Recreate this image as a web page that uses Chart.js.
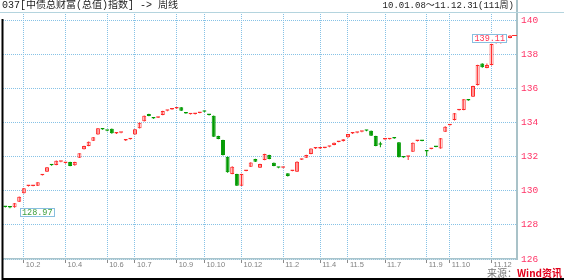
<!DOCTYPE html>
<html>
<head>
<meta charset="utf-8">
<script src="https://cdn.jsdelivr.net/npm/chart.js@4.4.1/dist/chart.umd.min.js"></script>
<style>
  html, body { margin: 0; padding: 0; background: #fff; }
  #wrap { position: relative; width: 564px; height: 280px; overflow: hidden; }
  #c { position: absolute; left: 0; top: 0; }
  .txt { position: absolute; white-space: nowrap; font-family: "Liberation Mono", "Noto Sans CJK SC", monospace; }
  #title { left: 2px; top: 0px; font-size: 10px; line-height: 12px; color: #222; }
  #range { right: 50px; top: 0px; font-size: 9px; line-height: 12px; color: #222; }
  #src { right: 2px; top: 267px; font-size: 10px; line-height: 12px; color: #777; font-family: "Noto Sans CJK SC", sans-serif; }
  #src b { color: #e0001a; }
</style>
</head>
<body>
<div id="wrap">
  <canvas id="c" width="564" height="280"></canvas>
  <div class="txt" id="title">037[中债总财富(总值)指数] -&gt; 周线</div>
  <div class="txt" id="range">10.01.08～11.12.31(111周)</div>
  <div class="txt" id="src">来源：<b>Wind资讯</b></div>
</div>
<script>
// weekly candles, 2010-01-08 .. 2011-12-31 (111 week slots)
const slotCount = 111;

const openV = [
  129.08, 129.04, 129.03, 129.36, 129.85, 130.27, 130.28, 130.29, 130.91, 131.11,
  131.53, 131.51, 131.69, 131.62, 131.68, 131.49, 131.93, 132.43, 132.62, 132.93,
  133.30, 133.62, 133.54, 133.63, 133.35, 133.39, 132.94, 133.02, 133.30, 133.66,
  134.07, 134.49, 134.26, 134.28, 134.44, 134.68, 134.76, 134.82, 134.89, 134.56,
  134.48, 134.49, 134.56, 134.65, 134.46, 134.39, 133.21, 132.97, 131.99, 130.98,
  130.98, 130.29, 131.16, 131.41, 131.86, 131.35, 131.80, 132.09, 131.64, 131.37,
  131.34, 131.02, 131.16, 131.11, 131.82, 131.93, 132.15, 132.47, 132.47, 132.51,
  132.57, 132.68, 132.86, 132.91, 133.13, 133.35, 133.39, 133.45, 133.54, 133.52,
  133.21, 132.73, 133.00, 133.02, 133.09, 132.84, 131.98, 131.99, 132.29, 132.91,
  132.95, 132.35, 132.45, 132.60, 132.48, 133.46, 133.84, 134.14, 134.72, 134.73,
  135.33, 135.51, 136.19, 137.46, 137.19, 137.36, 138.65, 138.65, 138.75, 138.95
];
const closeV = [
  129.05, 129.01, 129.26, 129.65, 130.14, 130.30, 130.31, 130.49, 130.94, 131.37,
  131.49, 131.76, 131.72, 131.66, 131.45, 131.68, 132.19, 132.62, 132.87, 133.13,
  133.66, 133.59, 133.51, 133.36, 133.38, 133.42, 132.97, 133.05, 133.60, 133.98,
  134.39, 134.38, 134.23, 134.32, 134.67, 134.71, 134.79, 134.85, 134.69, 134.53,
  134.51, 134.52, 134.59, 134.62, 134.43, 133.16, 133.03, 132.09, 131.08, 131.41,
  130.29, 130.98, 131.19, 131.66, 131.70, 131.57, 132.15, 131.86, 131.45, 131.34,
  131.37, 130.86, 131.19, 131.70, 131.86, 132.09, 132.48, 132.50, 132.50, 132.54,
  132.60, 132.81, 132.89, 133.01, 133.32, 133.38, 133.42, 133.48, 133.51, 133.22,
  132.62, 132.69, 133.03, 133.05, 133.06, 131.96, 131.95, 132.03, 132.81, 132.94,
  132.92, 132.30, 132.49, 132.56, 133.07, 133.75, 133.87, 134.54, 134.75, 135.36,
  135.29, 136.13, 137.36, 137.23, 137.36, 138.59, 138.68, 138.68, 138.79, 139.10
];
const highV = [
  129.10, 129.07, 129.28, 129.66, 130.16, 130.31, 130.33, 130.50, 130.95, 131.39,
  131.54, 131.77, 131.73, 131.67, 131.69, 131.69, 132.20, 132.63, 132.88, 133.14,
  133.68, 133.64, 133.56, 133.65, 133.39, 133.43, 132.98, 133.06, 133.62, 134.00,
  134.40, 134.51, 134.27, 134.33, 134.68, 134.72, 134.80, 134.86, 134.90, 134.57,
  134.52, 134.53, 134.60, 134.66, 134.47, 134.40, 133.22, 132.98, 132.00, 131.43,
  131.00, 131.00, 131.20, 131.67, 131.87, 131.58, 132.16, 132.10, 131.65, 131.38,
  131.38, 131.03, 131.20, 131.72, 131.87, 132.10, 132.49, 132.51, 132.51, 132.55,
  132.61, 132.82, 132.90, 133.02, 133.33, 133.39, 133.43, 133.49, 133.55, 133.53,
  133.22, 132.87, 133.04, 133.06, 133.10, 132.85, 131.99, 132.04, 132.83, 132.95,
  132.96, 132.36, 132.50, 132.61, 133.09, 133.77, 133.88, 134.56, 134.76, 135.38,
  135.34, 136.15, 137.38, 137.47, 137.46, 138.61, 138.69, 138.69, 138.80, 139.11
];
const lowV = [
  129.02, 128.97, 129.00, 129.34, 129.83, 130.25, 130.26, 130.27, 130.89, 131.09,
  131.47, 131.49, 131.67, 131.60, 131.43, 131.47, 131.91, 132.41, 132.60, 132.91,
  133.28, 133.57, 133.49, 133.34, 133.33, 133.37, 132.92, 133.00, 133.28, 133.64,
  134.05, 134.36, 134.21, 134.26, 134.42, 134.66, 134.74, 134.80, 134.67, 134.51,
  134.46, 134.47, 134.54, 134.60, 134.41, 133.14, 133.01, 132.07, 131.06, 130.96,
  130.27, 130.27, 131.14, 131.39, 131.68, 131.33, 131.78, 131.84, 131.43, 131.32,
  131.32, 130.84, 131.14, 131.09, 131.80, 131.91, 132.13, 132.45, 132.45, 132.49,
  132.55, 132.66, 132.84, 132.89, 133.11, 133.33, 133.37, 133.43, 133.49, 133.20,
  132.60, 132.54, 132.98, 133.00, 133.04, 131.94, 131.93, 131.80, 132.27, 132.89,
  132.90, 132.03, 132.43, 132.54, 132.46, 133.44, 133.82, 134.12, 134.70, 134.71,
  135.27, 135.49, 136.17, 137.21, 137.17, 137.34, 138.63, 138.63, 138.73, 138.93
];

const tickWeeks  = [4, 13, 22, 28, 37, 43, 51, 60, 68, 74, 82, 91, 96, 105];
const tickLabels = ['10.2', '10.4', '10.6', '10.7', '10.9', '10.10', '10.12',
                    '11.2', '11.4', '11.5', '11.7', '11.9', '11.10', '11.12'];
const yTicks = [126, 128, 130, 132, 134, 136, 138, 140];

const UP = '#ff2a2a';
const DOWN = '#009a00';
const GRID = '#86c2e6';

const isUp = openV.map((o, i) => closeV[i] >= o);
const bodies = openV.map((o, i) => ({ x: i, y: [o, closeV[i]] }));
const wicks = lowV.map((l, i) => ({ x: i, y: [l, highV[i]] }));

const extras = {
  id: 'extras',
  afterDatasetsDraw(chart) {
    const { ctx, chartArea: a, scales: { x, y } } = chart;
    ctx.save();

    // last close marker line to the right edge
    const last = closeV.length - 1;
    const ly = Math.round(y.getPixelForValue(closeV[last])) + 0.5;
    ctx.strokeStyle = UP;
    ctx.lineWidth = 1;
    ctx.beginPath();
    ctx.moveTo(x.getPixelForValue(last) + 2, ly);
    ctx.lineTo(a.right, ly);
    ctx.stroke();

    // min / max labels
    ctx.font = '8.5px "Liberation Mono", monospace';
    ctx.textBaseline = 'middle';
    const tag = (txt, left, top, color) => {
      const w = ctx.measureText(txt).width + 3;
      ctx.fillStyle = '#fff';
      ctx.fillRect(left, top, w, 8);
      ctx.strokeStyle = '#88bfe0';
      ctx.strokeRect(Math.round(left) + 0.5, Math.round(top) + 0.5, Math.round(w), 8);
      ctx.fillStyle = color;
      ctx.fillText(txt, left + 2, top + 4.5);
      return w;
    };
    const lo = Math.min(...lowV), iLo = lowV.indexOf(lo);
    tag(lo.toFixed(2), x.getPixelForValue(iLo) + 10, y.getPixelForValue(lo), '#3c9f3c');
    const hi = Math.max(...highV), iHi = highV.indexOf(hi);
    const hw = ctx.measureText(hi.toFixed(2)).width + 3;
    tag(hi.toFixed(2), x.getPixelForValue(iHi) - 4 - hw, y.getPixelForValue(hi) - 1, '#ff3355');
    ctx.restore();
  },
  afterDraw(chart) {
    const { ctx, chartArea: a } = chart;
    ctx.save();
    ctx.strokeStyle = '#b4d4de';
    ctx.lineWidth = 1;
    ctx.beginPath();
    ctx.moveTo(0, a.top + 0.5);
    ctx.lineTo(chart.width, a.top + 0.5);
    ctx.stroke();
    ctx.strokeStyle = '#a9c2c8';
    ctx.lineWidth = 2;
    ctx.beginPath();
    ctx.moveTo(a.right, 0);
    ctx.lineTo(a.right, a.top);
    ctx.stroke();
    ctx.strokeStyle = '#000';
    ctx.lineWidth = 2;
    ctx.beginPath();
    ctx.moveTo(2.5, 19);
    ctx.lineTo(2.5, 279);
    ctx.lineTo(chart.width, 279);
    ctx.stroke();
    ctx.restore();
  }
};

new Chart(document.getElementById('c'), {
  type: 'bar',
  data: {
    datasets: [
      {
        label: 'wick',
        data: wicks,
        grouped: false,
        barThickness: 1,
        backgroundColor: isUp.map(u => (u ? UP : DOWN)),
        borderWidth: 0,
        inflateAmount: 0,
        minBarLength: 1
      },
      {
        label: 'body',
        data: bodies,
        grouped: false,
        barThickness: 4,
        backgroundColor: isUp.map(u => (u ? '#ffffff' : DOWN)),
        borderColor: isUp.map(u => (u ? UP : DOWN)),
        borderWidth: 1,
        borderSkipped: false,
        inflateAmount: 0,
        minBarLength: 1.5
      }
    ]
  },
  options: {
    responsive: false,
    animation: false,
    devicePixelRatio: 1,
    layout: { padding: { left: 3, top: 12, right: 0, bottom: 0 } },
    plugins: { legend: { display: false }, tooltip: { enabled: false } },
    scales: {
      x: {
        type: 'linear',
        min: -0.5,
        max: slotCount - 0.5,
        offset: false,
        afterBuildTicks: s => { s.ticks = tickWeeks.map(v => ({ value: v })); },
        afterFit: s => { s.height = 21; },
        grid: {
          offset: false,
          color: GRID,
          lineWidth: 1,
          drawTicks: true,
          tickLength: 4,
          tickColor: '#8a8a8a',
          tickWidth: 1
        },
        border: { display: true, color: '#a8c4cc', width: 1.5, dash: [1, 1] },
        ticks: {
          autoSkip: false,
          maxRotation: 0,
          align: 'start',
          labelOffset: 2,
          padding: -3,
          color: '#808080',
          font: { family: '"Liberation Sans", Arial, sans-serif', size: 7.5 },
          callback: (v, i) => tickLabels[i]
        }
      },
      y: {
        position: 'right',
        min: 126,
        max: 140.47,
        afterBuildTicks: s => { s.ticks = yTicks.map(v => ({ value: v })); },
        afterFit: s => { s.width = 47; },
        grid: { color: GRID, lineWidth: 1, drawTicks: false },
        border: { display: true, color: '#a9c2c8', width: 2, dash: [1, 1] },
        ticks: {
          padding: 4,
          color: '#ff3366',
          font: { family: '"Liberation Mono", monospace', size: 9.5 },
          callback: v => String(v)
        }
      }
    }
  },
  plugins: [extras]
});
</script>
</body>
</html>
